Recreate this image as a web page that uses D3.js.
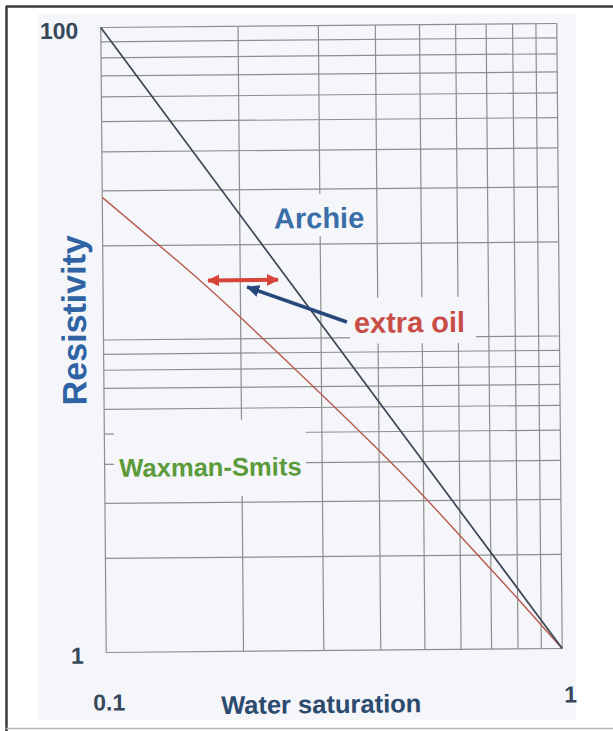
<!DOCTYPE html>
<html>
<head>
<meta charset="utf-8">
<script src="https://cdn.jsdelivr.net/npm/d3@7/dist/d3.min.js"></script>
<style>
  html, body { margin: 0; padding: 0; background: #ffffff; }
  svg { display: block; font-family: "Liberation Sans", Arial, sans-serif; }
</style>
</head>
<body>
<svg id="chart" width="613" height="731"></svg>
<script>
// Water saturation (x) and resistivity (y), both logarithmic
const gridSw = [0.1, 0.2, 0.3, 0.4, 0.5, 0.6, 0.7, 0.8, 0.9, 1];
const gridR = [1, 2, 3, 4, 5, 6, 7, 8, 9, 10, 20, 30, 40, 50, 60, 70, 80, 90, 100];

const xTickValues = [0.1, 1];
const xTickLabels = ["0.1", "1"];
const yTickValues = [100, 1];
const yTickLabels = ["100", "1"];

// Archie: straight line in log-log space
const archieSw = [0.1, 1];
const archieR = [100, 1];

// Waxman-Smits: bends down to meet Archie at Sw = 1
const waxmanSw = [0.1, 0.15, 0.2, 0.3, 0.4, 0.5, 0.6, 0.7, 0.8, 0.9, 1];
const waxmanR = [28.6, 17.2, 11.7, 6.6, 4.35, 3.1, 2.31, 1.8, 1.45, 1.19, 1];

// "extra oil" annotation: horizontal gap between the two models
const extraOilSw = [0.17, 0.242];
const extraOilR = [15.4, 15.4];
// pointer from the label to the gap
const pointerSw = [0.342, 0.207];
const pointerR = [11.24, 14.64];

const panelColor = "#f4f6f9";
const svg = d3.select("#chart");

const plotLeft = 103.5, plotRight = 559.5, plotTop = 25.5, plotBottom = 650.5;
const cx = (plotLeft + plotRight) / 2, cy = (plotTop + plotBottom) / 2;

const x = d3.scaleLog().domain([0.1, 1]).range([plotLeft, plotRight]);
const y = d3.scaleLog().domain([1, 100]).range([plotBottom, plotTop]);

// pale panel behind the chart
svg.append("rect")
  .attr("x", 38).attr("y", 14).attr("width", 538).attr("height", 706)
  .attr("fill", panelColor);

// frame
svg.append("line").attr("x1", 6).attr("x2", 613).attr("y1", 6.5).attr("y2", 6.5)
  .attr("stroke", "#3a3a3a").attr("stroke-width", 2.5);
svg.append("line").attr("x1", 6.5).attr("x2", 6.5).attr("y1", 6).attr("y2", 731)
  .attr("stroke", "#3a3a3a").attr("stroke-width", 2.5);
svg.append("line").attr("x1", 6).attr("x2", 613).attr("y1", 728.5).attr("y2", 728.5)
  .attr("stroke", "#b4b4b4").attr("stroke-width", 1.5);

// the sheet sits slightly tilted
const g = svg.append("g").attr("transform", `rotate(-0.5, ${cx}, ${cy})`);

// grid
g.append("g").selectAll("line").data(gridSw).join("line")
  .attr("x1", d => x(d)).attr("x2", d => x(d))
  .attr("y1", plotTop).attr("y2", plotBottom)
  .attr("stroke", "#8e8e8e").attr("stroke-width", 1.2);
g.append("g").selectAll("line").data(gridR).join("line")
  .attr("x1", plotLeft).attr("x2", plotRight)
  .attr("y1", d => y(d)).attr("y2", d => y(d))
  .attr("stroke", "#8e8e8e").attr("stroke-width", 1.2);

// label patches that mask the grid behind the curve labels
const patches = [
  { x: 268, y: 194, w: 104, h: 42 },
  { x: 350, y: 298, w: 126, h: 46 },
  { x: 113, y: 419, w: 192, h: 76 }
];
g.append("g").selectAll("rect").data(patches).join("rect")
  .attr("x", d => d.x).attr("y", d => d.y)
  .attr("width", d => d.w).attr("height", d => d.h)
  .attr("fill", panelColor);

// model lines
g.append("path")
  .datum(d3.zip(waxmanSw, waxmanR))
  .attr("d", d3.line().x(d => x(d[0])).y(d => y(d[1])).curve(d3.curveNatural))
  .attr("fill", "none").attr("stroke", "#b95a4e").attr("stroke-width", 1.4);
g.append("path")
  .datum(d3.zip(archieSw, archieR))
  .attr("d", d3.line().x(d => x(d[0])).y(d => y(d[1])))
  .attr("fill", "none").attr("stroke", "#3b4656").attr("stroke-width", 1.7);

// arrow heads
const defs = svg.append("defs");
function head(id, color, len, wid) {
  defs.append("marker")
    .attr("id", id)
    .attr("markerUnits", "userSpaceOnUse")
    .attr("viewBox", `0 0 ${len} ${wid}`)
    .attr("refX", len - 1).attr("refY", wid / 2)
    .attr("markerWidth", len).attr("markerHeight", wid)
    .attr("orient", "auto-start-reverse")
    .append("path")
    .attr("d", `M0,0 L${len},${wid / 2} L0,${wid} Z`)
    .attr("fill", color);
}
head("redHead", "#d8433a", 12, 12);
head("blueHead", "#28487c", 13, 12);

g.append("path")
  .datum(d3.zip(extraOilSw, extraOilR))
  .attr("d", d3.line().x(d => x(d[0])).y(d => y(d[1])))
  .attr("stroke", "#d8433a").attr("stroke-width", 4).attr("fill", "none")
  .attr("marker-start", "url(#redHead)").attr("marker-end", "url(#redHead)");

g.append("path")
  .datum(d3.zip(pointerSw, pointerR))
  .attr("d", d3.line().x(d => x(d[0])).y(d => y(d[1])))
  .attr("stroke", "#28487c").attr("stroke-width", 3.5).attr("fill", "none")
  .attr("marker-end", "url(#blueHead)");

// tick labels
g.append("g").selectAll("text").data(yTickValues).join("text")
  .attr("x", 81).attr("y", d => y(d) + 11)
  .attr("text-anchor", "end")
  .attr("font-size", 23).attr("font-weight", "bold").attr("fill", "#37485b")
  .text((d, i) => yTickLabels[i]);
g.append("g").selectAll("text").data(xTickValues).join("text")
  .attr("x", (d, i) => x(d) + (i === 0 ? 2.5 : 8))
  .attr("y", (d, i) => plotBottom + (i === 0 ? 58 : 54))
  .attr("text-anchor", "middle")
  .attr("font-size", 23).attr("font-weight", "bold").attr("fill", "#37485b")
  .text((d, i) => xTickLabels[i]);

// axis titles
g.append("text")
  .attr("x", 318).attr("y", 713)
  .attr("text-anchor", "middle")
  .attr("font-size", 25.5).attr("font-weight", "bold").attr("fill", "#2b4a6e")
  .text("Water saturation");
g.append("text")
  .attr("transform", "translate(86,318) rotate(-90)")
  .attr("text-anchor", "middle")
  .attr("font-size", 34).attr("font-weight", "bold").attr("fill", "#2f63a3")
  .text("Resistivity");

// curve labels
g.append("text")
  .attr("x", 275).attr("y", 228)
  .attr("font-size", 29).attr("font-weight", "bold").attr("fill", "#3a6ea8")
  .text("Archie");
g.append("text")
  .attr("x", 354).attr("y", 333)
  .attr("font-size", 29).attr("font-weight", "bold").attr("fill", "#c94d47")
  .text("extra oil");
g.append("text")
  .attr("x", 118).attr("y", 475)
  .attr("font-size", 25.6).attr("font-weight", "bold").attr("fill", "#5c9b3b")
  .text("Waxman-Smits");
</script>
</body>
</html>
